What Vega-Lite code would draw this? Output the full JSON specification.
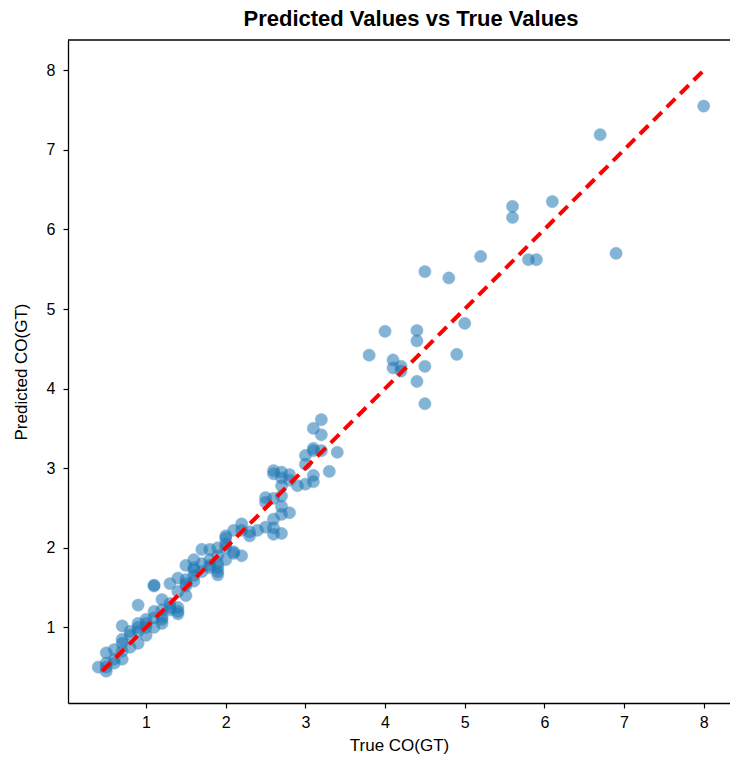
{
  "$schema": "https://vega.github.io/schema/vega-lite/v6.json",
  "autosize": {"type": "none"},
  "padding": {"left": 68, "top": 40, "right": 0, "bottom": 59},
  "width": 662,
  "height": 663,
  "background": "white",
  "config": {
    "view": {"stroke": null},
    "font": "Liberation Sans",
    "axis": {
      "domainColor": "black", "domainWidth": 1.3, "tickColor": "black", "tickSize": 5, "tickWidth": 1.2,
      "labelColor": "black", "labelFontSize": 16, "titleColor": "black", "titleFontSize": 17, "titleFontWeight": "normal", "grid": false, "format": "d"
    }
  },
  "title": {"text": "Predicted Values vs True Values", "fontSize": 22, "fontWeight": "bold", "color": "black", "offset": 8, "anchor": "middle", "dx": 12},
  "datasets": {
    "pts": [
      {"t": 8.0, "p": 7.55}, {"t": 6.7, "p": 7.19}, {"t": 6.9, "p": 5.7}, {"t": 6.1, "p": 6.35},
      {"t": 5.6, "p": 6.29}, {"t": 5.6, "p": 6.15}, {"t": 5.2, "p": 5.66}, {"t": 5.8, "p": 5.62},
      {"t": 5.9, "p": 5.62}, {"t": 4.5, "p": 5.47}, {"t": 4.8, "p": 5.39}, {"t": 5.0, "p": 4.82},
      {"t": 4.0, "p": 4.72}, {"t": 4.4, "p": 4.73}, {"t": 4.4, "p": 4.6}, {"t": 3.8, "p": 4.42},
      {"t": 4.1, "p": 4.36}, {"t": 4.1, "p": 4.26}, {"t": 4.2, "p": 4.28}, {"t": 4.2, "p": 4.22},
      {"t": 4.9, "p": 4.43}, {"t": 4.5, "p": 4.28}, {"t": 4.4, "p": 4.09}, {"t": 4.5, "p": 3.81},
      {"t": 3.2, "p": 3.61}, {"t": 3.1, "p": 3.5}, {"t": 3.2, "p": 3.42}, {"t": 3.4, "p": 3.2},
      {"t": 3.3, "p": 2.96}, {"t": 3.1, "p": 3.25}, {"t": 3.1, "p": 3.22}, {"t": 3.0, "p": 3.16},
      {"t": 3.2, "p": 3.22}, {"t": 3.0, "p": 3.05}, {"t": 3.1, "p": 2.91}, {"t": 3.1, "p": 2.83},
      {"t": 2.9, "p": 2.78}, {"t": 3.0, "p": 2.8}, {"t": 2.8, "p": 2.85}, {"t": 2.7, "p": 2.88},
      {"t": 2.6, "p": 2.97}, {"t": 2.6, "p": 2.93}, {"t": 2.7, "p": 2.95}, {"t": 2.8, "p": 2.92},
      {"t": 2.7, "p": 2.78}, {"t": 2.7, "p": 2.65}, {"t": 2.5, "p": 2.63}, {"t": 2.5, "p": 2.57},
      {"t": 2.6, "p": 2.62}, {"t": 2.7, "p": 2.52}, {"t": 2.7, "p": 2.42}, {"t": 2.8, "p": 2.44},
      {"t": 2.6, "p": 2.36}, {"t": 2.6, "p": 2.25}, {"t": 2.5, "p": 2.26}, {"t": 2.6, "p": 2.17},
      {"t": 2.7, "p": 2.18}, {"t": 2.4, "p": 2.22}, {"t": 2.3, "p": 2.2}, {"t": 2.2, "p": 2.3},
      {"t": 2.2, "p": 2.22}, {"t": 2.3, "p": 2.15}, {"t": 2.1, "p": 2.22}, {"t": 2.2, "p": 1.9},
      {"t": 2.0, "p": 2.15}, {"t": 2.0, "p": 2.12}, {"t": 2.0, "p": 2.05}, {"t": 2.1, "p": 1.95},
      {"t": 2.1, "p": 1.93}, {"t": 2.0, "p": 1.85}, {"t": 2.0, "p": 2.0},
      {"t": 1.9, "p": 2.0}, {"t": 1.8, "p": 1.98}, {"t": 1.9, "p": 1.9}, {"t": 1.8, "p": 1.85},
      {"t": 1.9, "p": 1.8}, {"t": 1.9, "p": 1.75}, {"t": 1.9, "p": 1.7}, {"t": 1.9, "p": 1.66},
      {"t": 1.7, "p": 1.98}, {"t": 1.6, "p": 1.85}, {"t": 1.7, "p": 1.8}, {"t": 1.5, "p": 1.78},
      {"t": 1.6, "p": 1.72}, {"t": 1.7, "p": 1.7}, {"t": 1.8, "p": 1.78}, {"t": 1.6, "p": 1.65},
      {"t": 1.5, "p": 1.6}, {"t": 1.6, "p": 1.58}, {"t": 1.4, "p": 1.62}, {"t": 1.5, "p": 1.52},
      {"t": 1.3, "p": 1.55}, {"t": 1.4, "p": 1.45}, {"t": 1.5, "p": 1.4}, {"t": 1.1, "p": 1.53},
      {"t": 1.1, "p": 1.52}, {"t": 1.2, "p": 1.35}, {"t": 1.3, "p": 1.3}, {"t": 1.4, "p": 1.25},
      {"t": 1.4, "p": 1.2}, {"t": 1.4, "p": 1.17}, {"t": 1.3, "p": 1.22}, {"t": 1.2, "p": 1.22},
      {"t": 1.2, "p": 1.13}, {"t": 1.1, "p": 1.2}, {"t": 1.1, "p": 1.12}, {"t": 1.0, "p": 1.1},
      {"t": 1.0, "p": 1.0}, {"t": 1.1, "p": 1.0}, {"t": 1.2, "p": 1.05}, {"t": 0.9, "p": 1.28},
      {"t": 0.9, "p": 1.0}, {"t": 0.9, "p": 0.95}, {"t": 1.0, "p": 0.9}, {"t": 0.8, "p": 0.95},
      {"t": 0.8, "p": 0.9}, {"t": 0.9, "p": 0.8}, {"t": 0.7, "p": 1.02}, {"t": 0.7, "p": 0.85},
      {"t": 0.7, "p": 0.8}, {"t": 0.8, "p": 0.75}, {"t": 0.6, "p": 0.72}, {"t": 0.7, "p": 0.7},
      {"t": 0.6, "p": 0.6}, {"t": 0.7, "p": 0.6}, {"t": 0.5, "p": 0.68}, {"t": 0.5, "p": 0.55},
      {"t": 0.4, "p": 0.5}, {"t": 0.5, "p": 0.5}, {"t": 0.5, "p": 0.45}, {"t": 0.6, "p": 0.55},
      {"t": 1.0, "p": 1.05}, {"t": 0.9, "p": 1.05}, {"t": 1.2, "p": 1.1}, {"t": 1.3, "p": 1.25},
      {"t": 1.5, "p": 1.55}, {"t": 1.6, "p": 1.75}, {"t": 1.8, "p": 1.75}
    ],
    "ideal": [{"t": 0.45, "p": 0.45}, {"t": 8.0, "p": 8.0}]
  },
  "layer": [
    {
      "data": {"name": "pts"},
      "mark": {"type": "point", "filled": true, "shape": "circle", "size": 150, "color": "#1f77b4", "opacity": 0.55, "stroke": "#1f77b4", "strokeWidth": 0.8, "strokeOpacity": 0.6},
      "encoding": {
        "x": {"field": "t", "type": "quantitative", "scale": {"domain": [0.02, 8.33], "nice": false, "zero": false},
              "axis": {"title": "True CO(GT)", "values": [1,2,3,4,5,6,7,8], "titlePadding": 7, "labelPadding": 6}},
        "y": {"field": "p", "type": "quantitative", "scale": {"domain": [0.05, 8.38], "nice": false, "zero": false},
              "axis": {"title": "Predicted CO(GT)", "values": [1,2,3,4,5,6,7,8], "titlePadding": 16, "labelPadding": 8}}
      }
    },
    {
      "data": {"name": "ideal"},
      "mark": {"type": "line", "color": "#ff0000", "strokeWidth": 4, "strokeDash": [12, 7]},
      "encoding": {
        "x": {"field": "t", "type": "quantitative"},
        "y": {"field": "p", "type": "quantitative"}
      }
    },
    {
      "data": {"values": [{"v": 8.38}]},
      "mark": {"type": "rule", "color": "black", "strokeWidth": 1.3},
      "encoding": {"y": {"field": "v", "type": "quantitative"}}
    }
  ]
}
